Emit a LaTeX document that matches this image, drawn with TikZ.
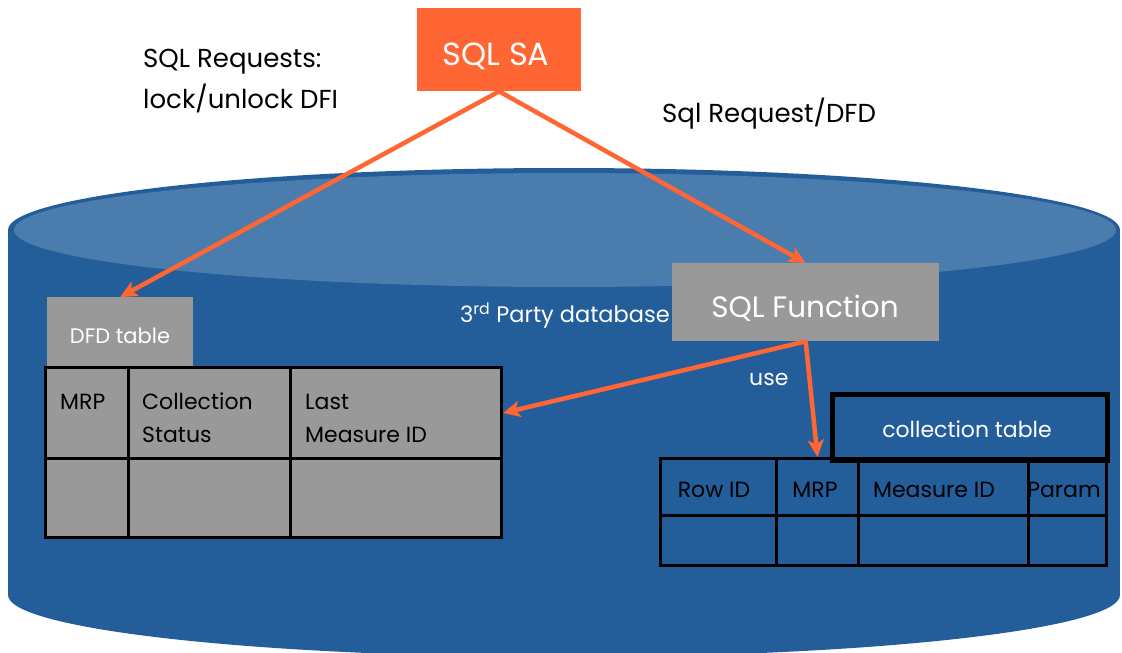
\documentclass[tikz,border=0pt]{standalone}
\usepackage{fontspec}
\setmainfont{Poppins}
\usetikzlibrary{arrows.meta}
\definecolor{dbblue}{HTML}{235D9A}
\definecolor{dbtop}{HTML}{4A7CAD}
\definecolor{orng}{HTML}{FF6633}
\definecolor{gry}{HTML}{999999}
\begin{document}
\begin{tikzpicture}[x=1pt,y=-1pt,
  arr/.style={draw=orng, line width=4.5pt, -{Stealth[length=17pt,width=16pt,inset=4pt]}},
  box/.style={draw=none, inner sep=0pt, anchor=north west},
  cellg/.style={draw=black, fill=gry, line width=3pt, inner sep=0pt, anchor=north west},
  cellb/.style={draw=black, line width=3pt, inner sep=0pt, anchor=north west},
  txt/.style={inner sep=0pt, font=\fontsize{22}{26}\selectfont},
  lbl/.style={inner sep=0pt, font=\fontsize{26}{30}\selectfont},
  wtxt/.style={txt, text=white},
]
\useasboundingbox (0,0) rectangle (1122,653);
\clip (0,0) rectangle (1122,653);
% cylinder
\fill[dbblue] (8,230) rectangle (1120,595);
\fill[dbblue] (564,595) ellipse [x radius=556, y radius=62];
\fill[dbblue] (564,230) ellipse [x radius=556, y radius=62];
\fill[dbtop] (565,230) ellipse [x radius=551, y radius=57];

% SQL SA
\node[box, fill=orng, minimum width=164pt, minimum height=83pt] (sa) at (417,8) {};
\node[wtxt, anchor=base, font=\fontsize{32}{36}\selectfont] (satxt) at (496,65) {SQL SA};
\node[lbl, anchor=base west] (req1) at (143,67) {SQL Requests:};
\node[lbl, anchor=base west] (req2) at (143,108) {lock/unlock DFI};
\node[lbl, anchor=base west] (req3) at (662,122) {Sql Request/DFD};

% SQL Function
\node[box, fill=gry, minimum width=267pt, minimum height=78pt] (fn) at (672,263) {};
\node[wtxt, anchor=base, font=\fontsize{29.5}{34}\selectfont] (fntxt) at (805,317) {SQL Function};
\node[wtxt, anchor=base east, font=\fontsize{22.5}{26}\selectfont] (party) at (670,322) {3\textsuperscript{rd} Party database};

% DFD table
\node[box, fill=gry, minimum width=146pt, minimum height=70pt] (dfd) at (47,297) {};
\node[wtxt, anchor=base, font=\fontsize{21}{24}\selectfont] (dfdtxt) at (120,343) {DFD table};

% left table
\node[cellg, minimum width=83pt, minimum height=91pt] (l1) at (44,366) {};
\node[cellg, minimum width=162pt, minimum height=91pt] (l2) at (127,366) {};
\node[cellg, minimum width=211pt, minimum height=91pt] (l3) at (289,366) {};
\node[cellg, minimum width=83pt, minimum height=79pt] (l4) at (44,457) {};
\node[cellg, minimum width=162pt, minimum height=79pt] (l5) at (127,457) {};
\node[cellg, minimum width=211pt, minimum height=79pt] (l6) at (289,457) {};
\node[txt, anchor=base west] (l1t) at (60,409) {MRP};
\node[txt, anchor=base west] (l2t) at (142,409) {Collection};
\node[txt, anchor=base west] (l2u) at (142,442) {Status};
\node[txt, anchor=base west] (l3t) at (305,409) {Last};
\node[txt, anchor=base west] (l3u) at (305,442) {Measure ID};

% collection table header
\node[box, draw=black, line width=5pt, fill=dbblue, minimum width=275pt, minimum height=66pt] (ch) at (830,392) {};
\node[wtxt, anchor=base] (chtxt) at (967,437) {collection table};

% right table
\node[cellb, minimum width=116pt, minimum height=57pt] (r1) at (659,457) {};
\node[cellb, minimum width=82pt, minimum height=57pt] (r2) at (775,457) {};
\node[cellb, minimum width=170pt, minimum height=57pt] (r3) at (857,457) {};
\node[cellb, minimum width=78pt, minimum height=57pt] (r4) at (1027,457) {};
\node[cellb, minimum width=116pt, minimum height=50pt] (r5) at (659,514) {};
\node[cellb, minimum width=82pt, minimum height=50pt] (r6) at (775,514) {};
\node[cellb, minimum width=170pt, minimum height=50pt] (r7) at (857,514) {};
\node[cellb, minimum width=78pt, minimum height=50pt] (r8) at (1027,514) {};
\node[txt, anchor=base] (r1t) at (714,497) {Row ID};
\node[txt, anchor=base] (r2t) at (815,497) {MRP};
\node[txt, anchor=base] (r3t) at (934,497) {Measure ID};
\node[txt, anchor=base] (r4t) at (1064,497) {Param};

\node[wtxt, anchor=base west] (use) at (749,385) {use};

% arrows
\draw[arr] (sa.south) -- (dfd.north);
\draw[arr] (sa.south) -- (fn.north);
\draw[arr] (fn.south) -- (l3.east);
\draw[arr] (fn.south) -- (r2.north);
\end{tikzpicture}
\end{document}
